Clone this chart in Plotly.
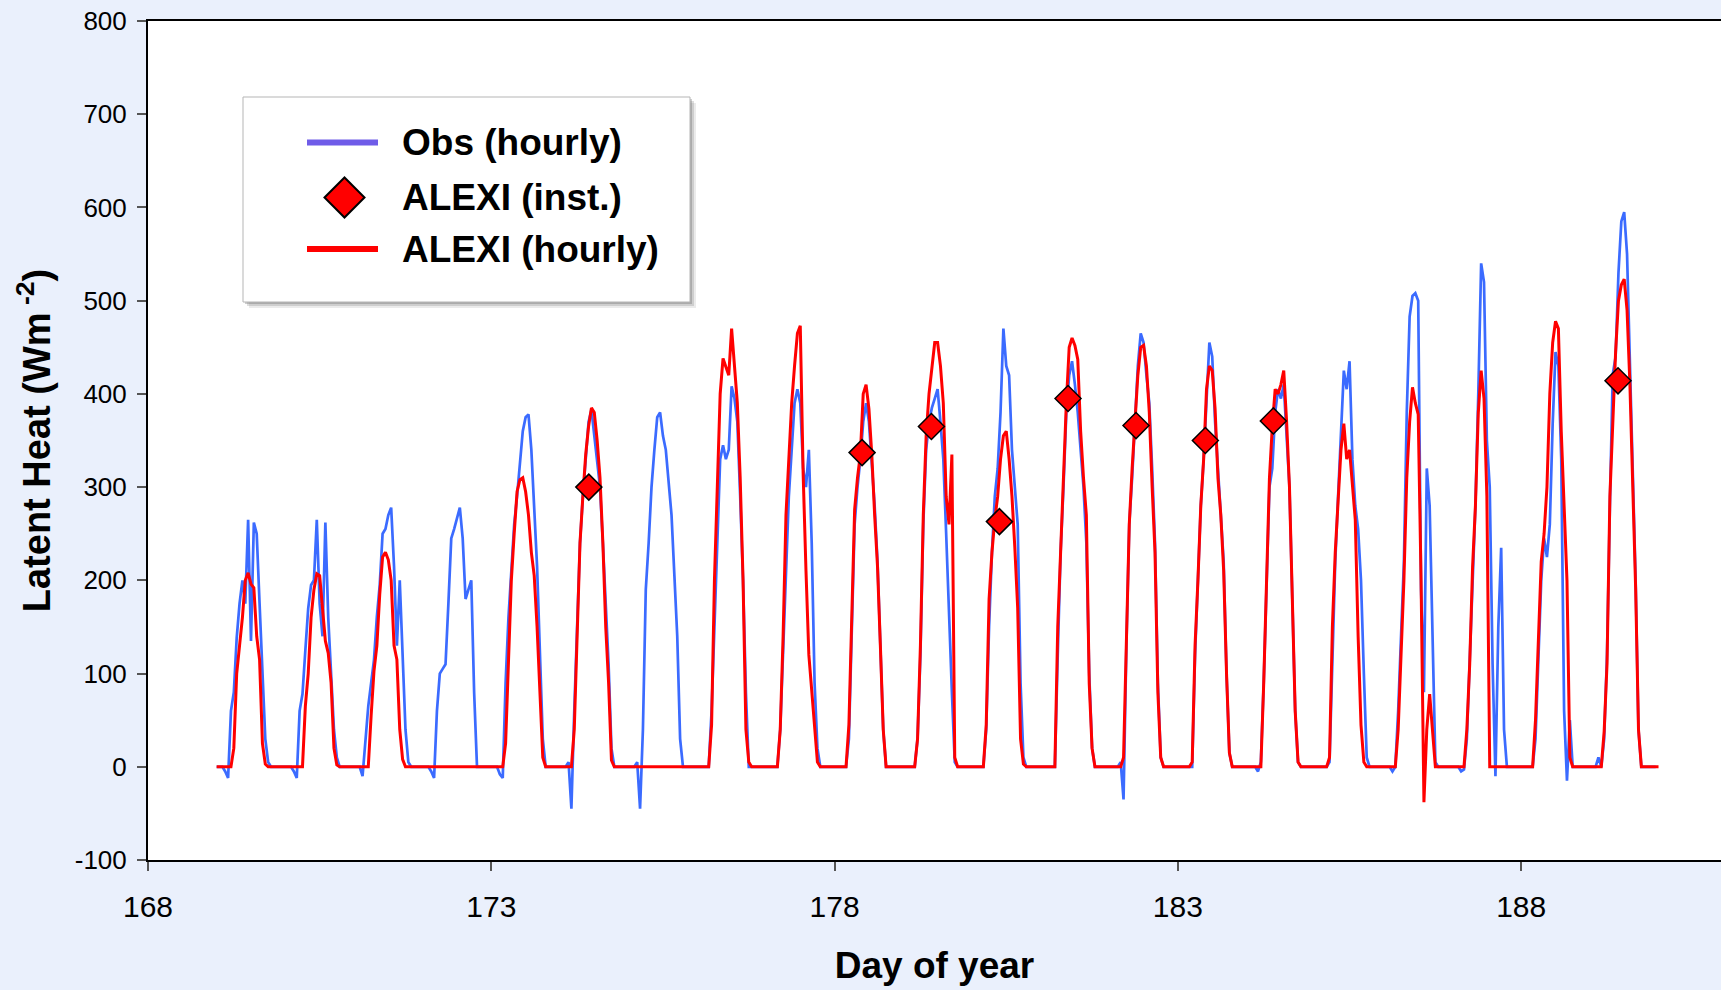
import plotly.graph_objects as go

# ---------------- data ----------------
days = list(range(169, 190))          # day of year, hourly values h0..h23
hours = list(range(24))

obs_hourly = [
    [0,0,0,-5,-12,60,80,138,175,200,175,265,135,262,250,175,110,30,5,0,0,0,0,0],      # 169
    [0,0,0,-5,-12,60,78,125,170,195,200,265,175,140,262,160,100,40,10,0,0,0,0,0],     # 170
    [0,0,0,-10,30,65,90,115,161,195,250,255,270,278,215,130,200,120,40,5,0,0,0,0],    # 171
    [0,0,0,-5,-12,60,100,105,110,175,245,255,268,278,245,180,190,200,80,0,0,0,0,0],   # 172
    [0,0,0,-8,-12,90,160,210,260,290,323,360,375,378,340,270,215,122,30,0,0,0,0,0],   # 173
    [0,0,0,5,-45,60,160,240,290,335,370,383,357,330,300,240,180,110,20,0,0,0,0,0],    # 174
    [0,0,0,5,-45,40,190,240,300,340,375,380,355,340,305,270,205,140,30,0,0,0,0,0],    # 175
    [0,0,0,0,0,60,150,260,330,345,330,340,408,395,370,290,200,80,0,0,0,0,0,0],        # 176
    [0,0,0,0,0,40,120,220,290,340,390,405,390,320,300,340,240,90,20,0,0,0,0,0],       # 177
    [0,0,0,0,0,30,150,260,300,330,370,390,370,330,280,220,140,40,0,0,0,0,0,0],        # 178
    [0,0,0,0,0,30,120,260,340,370,385,395,405,370,330,250,160,80,5,0,0,0,0,0],        # 179
    [0,0,0,0,0,40,150,230,290,320,380,470,430,420,340,300,260,90,10,0,0,0,0,0],       # 180
    [0,0,0,0,0,0,120,230,300,380,420,435,410,380,340,300,240,100,20,0,0,0,0,0],       # 181
    [0,0,0,0,5,-35,130,260,310,370,430,465,455,420,390,320,240,90,10,0,0,0,0,0],      # 182
    [0,0,0,0,0,0,120,200,280,330,400,455,440,370,320,270,220,100,15,0,0,0,0,0],       # 183
    [0,0,0,0,-5,5,90,200,300,320,380,405,395,410,360,300,180,60,5,0,0,0,0,0],         # 184
    [0,0,0,0,0,5,120,220,290,350,425,405,435,330,280,255,200,100,10,0,0,0,0,0],       # 185
    [0,0,0,-5,0,60,150,220,380,483,505,508,500,190,80,320,280,150,5,0,0,0,0,0],       # 186
    [0,0,0,-5,-3,30,120,200,280,400,540,520,350,300,110,-10,150,235,40,0,0,0,0,0],    # 187
    [0,0,0,0,0,30,120,200,245,225,260,368,445,430,330,60,-15,50,0,0,0,0,0,0],         # 188
    [0,0,0,10,0,30,120,280,421,440,530,585,595,550,430,330,200,40,0,0,0,0,0,0],       # 189
]

alexi_hourly = [
    [0,0,0,0,0,0,20,100,130,160,200,208,196,192,140,115,25,3,0,0,0,0,0,0],            # 169
    [0,0,0,0,0,0,0,65,100,160,190,207,205,170,135,122,90,20,2,0,0,0,0,0],             # 170
    [0,0,0,0,0,0,55,103,130,185,225,230,222,200,130,115,40,8,0,0,0,0,0,0],            # 171
    [0]*24,                                                                            # 172
    [0,0,0,0,0,25,110,200,250,295,308,310,295,270,230,205,150,84,10,0,0,0,0,0],       # 173
    [0,0,0,0,0,40,140,240,290,335,365,385,380,350,310,240,150,90,7,0,0,0,0,0],        # 174
    [0]*24,                                                                            # 175
    [0,0,0,0,0,45,200,300,400,438,430,420,470,430,390,310,200,40,5,0,0,0,0,0],        # 176
    [0,0,0,0,0,40,140,270,330,390,430,465,473,315,210,120,82,45,5,0,0,0,0,0],         # 177
    [0,0,0,0,0,45,160,276,310,335,400,410,384,335,270,215,130,40,0,0,0,0,0,0],        # 178
    [0,0,0,0,0,30,130,270,355,400,430,455,455,430,390,290,260,335,10,0,0,0,0,0],      # 179
    [0,0,0,0,0,45,180,230,265,290,330,355,360,330,290,235,170,30,3,0,0,0,0,0],        # 180
    [0,0,0,0,0,0,150,240,310,390,450,460,452,437,360,310,270,90,20,0,0,0,0,0],        # 181
    [0,0,0,0,0,10,150,260,320,370,420,450,452,430,380,300,230,80,10,0,0,0,0,0],       # 182
    [0,0,0,0,0,5,130,200,280,330,405,430,425,384,310,270,210,100,15,0,0,0,0,0],       # 183
    [0,0,0,0,0,0,90,210,310,365,405,400,410,425,370,300,170,60,5,0,0,0,0,0],          # 184
    [0,0,0,0,0,10,150,230,280,340,368,330,340,300,265,140,45,5,0,0,0,0,0,0],          # 185
    [0,0,0,0,0,40,125,200,310,370,407,390,378,200,-38,40,78,38,0,0,0,0,0,0],          # 186
    [0,0,0,0,0,40,110,214,280,380,425,395,290,0,0,0,0,0,0,0,0,0,0,0],                 # 187
    [0,0,0,0,0,50,140,220,250,300,400,455,478,470,360,280,200,10,0,0,0,0,0,0],        # 188
    [0,0,0,0,0,38,110,290,375,445,500,517,523,490,410,300,192,40,0,0,0,0,0,0],        # 189
]
alexi_end_day = [190]
alexi_end_val = [0]

inst_day = [174.42, 178.40, 179.41, 180.40, 181.40, 182.39, 183.40, 184.39, 189.41]
inst_val = [300, 337, 365, 263, 395, 366, 350, 371, 414]

x_ticks = [168, 173, 178, 183, 188]
y_ticks = [-100, 0, 100, 200, 300, 400, 500, 600, 700, 800]

series_names = ["Obs (hourly)", "ALEXI (inst.)", "ALEXI (hourly)"]

# ---------------- build series ----------------
x_hourly = [d + h / 24 for d in days for h in hours]
obs_y = [v for day in obs_hourly for v in day]
alexi_x = x_hourly + alexi_end_day
alexi_y = [v for day in alexi_hourly for v in day] + alexi_end_val

FONT = "Liberation Sans, Arial, Helvetica, sans-serif"
OBS_COLOR = "#3B6BFF"
RED = "#FF0000"

fig = go.Figure()
fig.add_trace(go.Scatter(x=x_hourly, y=obs_y, mode="lines", name=series_names[0],
                         line=dict(color=OBS_COLOR, width=2.7), showlegend=False))
fig.add_trace(go.Scatter(x=alexi_x, y=alexi_y, mode="lines", name=series_names[2],
                         line=dict(color=RED, width=3), showlegend=False))
fig.add_trace(go.Scatter(x=inst_day, y=inst_val, mode="markers", name=series_names[1],
                         marker=dict(symbol="diamond", size=20, color=RED,
                                     line=dict(color="black", width=1.5)),
                         showlegend=False))

# ---------------- custom legend (box, keys, labels) ----------------
L, R, T, B = 148, 1721, 21, 860
W, H = R - L, B - T
def px(x):
    return (x - L) / W
def py(y):
    return (B - y) / H

shapes = []
# soft shadow
for off, alpha in [(6, 0.12), (4, 0.2), (2, 0.3)]:
    shapes.append(dict(type="rect", xref="paper", yref="paper",
                       x0=px(243 + off), x1=px(690 + off), y0=py(302 + off), y1=py(97 + off),
                       fillcolor=f"rgba(90,90,90,{alpha})", line=dict(width=0), layer="above"))
shapes.append(dict(type="rect", xref="paper", yref="paper",
                   x0=px(243), x1=px(690), y0=py(302), y1=py(97),
                   fillcolor="white", line=dict(color="#B5B5B5", width=1), layer="above"))
key_y = [142.5, 197.5, 249]
shapes.append(dict(type="line", xref="paper", yref="paper",
                   x0=px(307), x1=px(378), y0=py(key_y[0]), y1=py(key_y[0]),
                   line=dict(color="#6F5CE8", width=6), layer="above"))
shapes.append(dict(type="line", xref="paper", yref="paper",
                   x0=px(307), x1=px(378), y0=py(key_y[2]), y1=py(key_y[2]),
                   line=dict(color=RED, width=6), layer="above"))
shapes.append(dict(type="path", xref="paper", yref="paper",
                   xsizemode="pixel", ysizemode="pixel",
                   xanchor=px(344.5), yanchor=py(key_y[1]),
                   path="M -20 0 L 0 20 L 20 0 L 0 -20 Z",
                   fillcolor=RED, line=dict(color="black", width=2), layer="above"))

annotations = []
for name, ky in zip(series_names, key_y):
    annotations.append(dict(x=px(400), y=py(ky), xref="paper", yref="paper",
                            text=name, showarrow=False, xanchor="left", yanchor="middle",
                            font=dict(family=FONT, size=37, color="black", weight="bold")))

fig.update_layout(
    width=1721, height=990, autosize=False,
    margin=dict(l=L, r=1721 - R, t=T, b=990 - B, pad=0),
    paper_bgcolor="#EAF0FC", plot_bgcolor="white",
    font=dict(family=FONT, color="black"),
    shapes=shapes, annotations=annotations, showlegend=False,
    xaxis=dict(range=[168, 190.91], tickvals=x_ticks, ticktext=[str(t) for t in x_ticks],
               ticks="outside", ticklen=9, tickwidth=1.5, tickcolor="#555555",
               showline=True, linecolor="black", linewidth=2, mirror=True,
               showgrid=False, zeroline=False,
               tickfont=dict(family=FONT, size=30, color="black"), ticklabelstandoff=10,
               title=dict(text="Day of year", standoff=30,
                          font=dict(family=FONT, size=37, color="black", weight="bold"))),
    yaxis=dict(range=[-100, 800], tickvals=y_ticks, ticktext=[str(t) for t in y_ticks],
               ticks="outside", ticklen=9, tickwidth=1.5, tickcolor="#555555",
               showline=True, linecolor="black", linewidth=2,
               showgrid=False, zeroline=False,
               tickfont=dict(family=FONT, size=26, color="black"), ticklabelstandoff=5,
               title=dict(text="Latent Heat (Wm<sup> -2</sup>)", standoff=12,
                          font=dict(family=FONT, size=38, color="black", weight="bold"))),
)

fig.write_html("out.html")
